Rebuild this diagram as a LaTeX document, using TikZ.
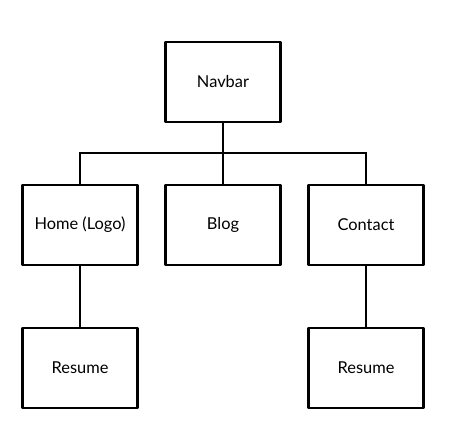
\documentclass[tikz,border=0pt]{standalone}
\usepackage{fontspec}
\setmainfont{Lato}
\begin{document}
\begin{tikzpicture}[x=0.75pt,y=-0.75pt,
  box/.style={draw=black,line width=1.9pt,minimum width=86pt,minimum height=60pt,inner sep=0pt,font=\fontsize{12.3}{14}\selectfont,line join=round},
  link/.style={draw=black,line width=1.4pt}]
\useasboundingbox (0,0) rectangle (449,439);
\node[box] (nav) at (223,82) {Navbar};
\node[box] (home) at (80,225) {Home (Logo)};
\node[box] (blog) at (223,225) {Blog};
\node[box] (contact) at (366,225) {Contact};
\node[box] (res1) at (80,368) {Resume};
\node[box] (res2) at (366,368) {Resume};
\coordinate (j) at (223,153);
\draw[link] (nav.south) -- (j);
\draw[link] (home.north) |- (j) -| (contact.north);
\draw[link] (j) -- (blog.north);
\draw[link] (home.south) -- (res1.north);
\draw[link] (contact.south) -- (res2.north);
\end{tikzpicture}
\end{document}
